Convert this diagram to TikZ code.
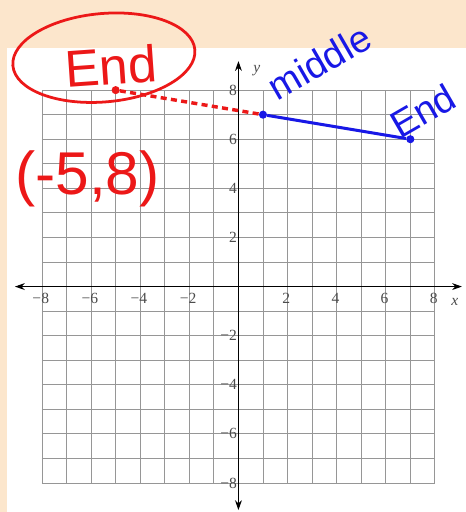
\documentclass[tikz,border=0pt]{standalone}
\usepackage{fontspec}
\setmainfont{Liberation Serif}
\newfontfamily\handfont{Liberation Sans}
\usetikzlibrary{arrows.meta,positioning}
\definecolor{paper}{RGB}{252,230,204}
\definecolor{penred}{RGB}{236,24,24}
\definecolor{penblue}{RGB}{24,24,230}
\definecolor{gridgray}{RGB}{150,150,150}

\begin{document}
\begin{tikzpicture}[
    font=\fontsize{18}{20}\selectfont,
    >={Stealth[length=4mm,width=2.8mm]},
    tick/.style={text=black!70, inner sep=1pt},
    dot/.style={circle, fill, inner sep=0pt, minimum size=3.3mm},
    hand/.style={font=\handfont\fontsize{#1}{#1}\selectfont, inner sep=0pt},
    axis/.style={<->, line width=1.1pt}
  ]
    % paper and page
    \fill[paper] (-9.71,-9.18) rectangle (9.26,11.67);
    \fill[white] (-9.43,-9.18) rectangle (9.26,9.71);
    \useasboundingbox (-9.71,-9.18) rectangle (9.26,11.67);

    % grid and axes
    \draw[gridgray, line width=1pt] (-8,-8) grid (8,8);
    \coordinate (xl) at (-9.1,0);
    \coordinate (xr) at (9.1,0);
    \coordinate (yb) at (0,-9.1);
    \coordinate (yt) at (0,9.18);
    \draw[axis] (xl) -- (xr);
    \draw[axis] (yb) -- (yt);
    \foreach \v/\t in {-8/−8,-6/−6,-4/−4,-2/−2,2/2,4/4,6/6,8/8} {
      \node[tick, anchor=north] (xt\v) at (\v-0.05,-0.22) {\t};
      \node[tick, anchor=east] (yt\v) at (-0.02,\v) {\t};
    }
    \node[tick] (xlab) at (8.81,-0.63) {\textit{x}};
    \node[tick] (ylab) at (0.75,8.81) {\textit{y}};

    % points
    \node[dot, penred] (A) at (-5,8) {};
    \node[dot, penblue] (M) at (1,7) {};
    \node[dot, penblue] (B) at (7,6) {};
    \draw[penred, line width=4pt, dash pattern=on 7pt off 5pt] (A) -- (M);
    \draw[penblue, line width=3.5pt] (M) -- (B);

    % handwriting
    \node[hand=60, penred, rotate=4] (endA) at (-5.2,8.97) {End};
    \draw[penred, line width=3.2pt, rotate around={5:(-5.48,9.32)}] (-5.48,9.32) ellipse [x radius=3.72, y radius=1.8];
    \node[hand=70, penred] (coord) at (-6.15,4.4) {(-5,8)};
    \node[hand=44, penblue, rotate=30] (mid) at (3.3,9.15) {middle};
    \node[hand=44, penblue, rotate=30] (endB) at (7.5,7.15) {End};
  \end{tikzpicture}
\end{document}
